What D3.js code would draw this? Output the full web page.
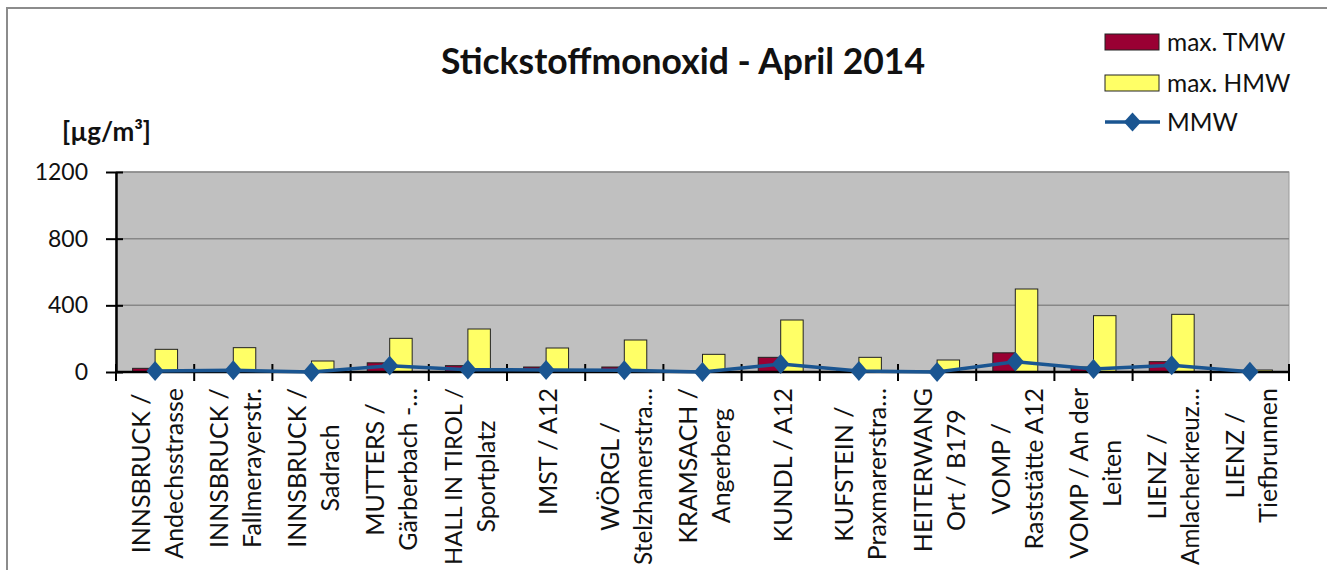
<!DOCTYPE html>
<html>
<head>
<meta charset="utf-8">
<script src="https://cdn.jsdelivr.net/npm/d3@7"></script>
<style>
  body { margin: 0; background: #fff; }
  svg { display: block; font-family: Lato, 'Noto Sans', sans-serif; }
</style>
</head>
<body>
<svg id="chart" width="1327" height="570"></svg>
<script>
// station labels, already wrapped the way the chart shows them
const stations = [
  ['INNSBRUCK /', 'Andechsstrasse'],
  ['INNSBRUCK /', 'Fallmerayerstr.'],
  ['INNSBRUCK /', 'Sadrach'],
  ['MUTTERS /', 'Gärberbach -…'],
  ['HALL IN TIROL /', 'Sportplatz'],
  ['IMST / A12'],
  ['WÖRGL /', 'Stelzhamerstra…'],
  ['KRAMSACH /', 'Angerberg'],
  ['KUNDL / A12'],
  ['KUFSTEIN /', 'Praxmarerstra…'],
  ['HEITERWANG', 'Ort / B179'],
  ['VOMP /', 'Raststätte A12'],
  ['VOMP / An der', 'Leiten'],
  ['LIENZ /', 'Amlacherkreuz…'],
  ['LIENZ /', 'Tiefbrunnen'],
]
const maxTMW = [22, 15, 3, 55, 38, 30, 30, 4, 88, 6, 4, 115, 30, 62, 10]
const maxHMW = [136, 146, 66, 202, 258, 144, 192, 106, 312, 88, 72, 498, 338, 346, 12]
const mmw = [6, 10, 0, 38, 14, 12, 10, 0, 48, 6, 0, 62, 18, 40, 2]
const yTicks = [0, 400, 800, 1200]

const svg = d3.select('#chart')
const plotLeft = 116
const plotRight = 1289
const plotTop = 172
const plotBottom = 372

const colors = { tmw: '#990033', hmw: '#ffff66', mmw: '#1a5591' }

const idx = d3.range(stations.length)
const x0 = d3.scaleBand().domain(idx).range([plotLeft, plotRight]).paddingInner(0).paddingOuter(0)
const x1 = d3.scaleBand().domain(['tmw', 'hmw']).range([0, x0.bandwidth()]).paddingInner(0).paddingOuter(0.74)
const y = d3.scaleLinear().domain([0, 1200]).range([plotBottom, plotTop])

// outer chart frame
svg.append('rect')
  .attr('x', 7).attr('y', 8).attr('width', 1400).attr('height', 700)
  .attr('fill', 'none').attr('stroke', '#8c8c8c').attr('stroke-width', 2)

// plot area
svg.append('rect')
  .attr('x', plotLeft).attr('y', plotTop)
  .attr('width', plotRight - plotLeft).attr('height', plotBottom - plotTop)
  .attr('fill', '#c0c0c0').attr('stroke', '#9a9a9a').attr('stroke-width', 1)

svg.selectAll('.grid')
  .data(yTicks.filter((t) => t > 0))
  .join('line')
  .attr('class', 'grid')
  .attr('x1', plotLeft).attr('x2', plotRight)
  .attr('y1', (d) => y(d)).attr('y2', (d) => y(d))
  .attr('stroke', '#878787').attr('stroke-width', 1.5)

// bars
const groups = svg.selectAll('.grp')
  .data(idx)
  .join('g')
  .attr('class', 'grp')
  .attr('transform', (i) => `translate(${x0(i)},0)`)

groups.append('rect')
  .attr('x', x1('tmw'))
  .attr('width', x1.bandwidth())
  .attr('y', (i) => y(maxTMW[i]))
  .attr('height', (i) => y(0) - y(maxTMW[i]))
  .attr('fill', colors.tmw)
  .attr('stroke', '#222').attr('stroke-width', 1)

groups.append('rect')
  .attr('x', x1('hmw'))
  .attr('width', x1.bandwidth())
  .attr('y', (i) => y(maxHMW[i]))
  .attr('height', (i) => y(0) - y(maxHMW[i]))
  .attr('fill', colors.hmw)
  .attr('stroke', '#222').attr('stroke-width', 1)

// y axis
const yAxis = svg.append('g')
  .attr('transform', `translate(${plotLeft},0)`)
  .call(d3.axisLeft(y).tickValues(yTicks).tickFormat(d3.format('d'))
    .tickSize(10).tickSizeOuter(0).tickPadding(18))
yAxis.select('.domain').attr('stroke', '#000').attr('stroke-width', 2.5)
yAxis.selectAll('.tick line').attr('x1', 7).attr('stroke', '#000').attr('stroke-width', 2)
yAxis.selectAll('.tick text')
  .attr('font-size', 23).attr('fill', '#111')
  .attr('font-family', 'Lato, sans-serif')

// x axis with ticks on the category boundaries
svg.append('line')
  .attr('x1', plotLeft).attr('x2', plotRight)
  .attr('y1', plotBottom).attr('y2', plotBottom)
  .attr('stroke', '#000').attr('stroke-width', 2.5)

const bounds = idx.map((i) => x0(i)).concat([plotRight])
svg.selectAll('.xtick')
  .data(bounds)
  .join('line')
  .attr('class', 'xtick')
  .attr('x1', (d) => d).attr('x2', (d) => d)
  .attr('y1', plotBottom - 8).attr('y2', plotBottom + 9)
  .attr('stroke', '#000').attr('stroke-width', 2)

// MMW line
const cx = (i) => x0(i) + x0.bandwidth() / 2
const line = d3.line().x((i) => cx(i)).y((i) => y(mmw[i]))
svg.append('path')
  .datum(idx)
  .attr('d', line)
  .attr('fill', 'none')
  .attr('stroke', colors.mmw)
  .attr('stroke-width', 3.5)

const diamond = d3.symbol().type(d3.symbolSquare).size(150)
svg.selectAll('.mk')
  .data(idx)
  .join('path')
  .attr('class', 'mk')
  .attr('d', diamond)
  .attr('transform', (i) => `translate(${cx(i)},${y(mmw[i])}) scale(1,1.15) rotate(45)`)
  .attr('fill', colors.mmw)

// category labels, rotated, lines centred against the longest one
const labelTop = 388
const lineGap = 33
const labelRoom = 570 - labelTop - 5
const labels = svg.selectAll('.lbl')
  .data(idx)
  .join('g')
  .attr('class', 'lbl')
  .attr('transform', (i) => `translate(${cx(i)},${labelTop}) rotate(-90)`)

labels.each(function (i) {
  const g = d3.select(this)
  const lines = stations[i]
  const texts = g.selectAll('text')
    .data(lines)
    .join('text')
    .attr('font-size', 25)
    .attr('fill', '#111')
    .attr('text-anchor', 'middle')
    .attr('y', (d, k) => (k - (lines.length - 1) / 2) * lineGap + 2 + 9)
    .text((d) => d)
  // shrink a line that would run past the bottom edge
  texts.each(function () {
    const len = this.getComputedTextLength()
    if (len > labelRoom) d3.select(this).attr('font-size', 25 * labelRoom / len)
  })
  let longest = 0
  texts.each(function () {
    longest = Math.max(longest, this.getComputedTextLength())
  })
  texts.attr('x', -longest / 2)
})

// title and unit
svg.append('text')
  .attr('x', 683).attr('y', 74)
  .attr('text-anchor', 'middle')
  .attr('font-size', 35.5).attr('font-weight', 'bold').attr('fill', '#111')
  .text('Stickstoffmonoxid - April 2014')

svg.append('text')
  .attr('x', 62).attr('y', 141)
  .attr('font-size', 26).attr('font-weight', 'bold').attr('fill', '#111')
  .text('[µg/m³]')

// legend
const legend = svg.append('g').attr('transform', 'translate(1105,0)')
const legendItems = [
  { label: 'max. TMW', type: 'bar', color: colors.tmw, y: 42 },
  { label: 'max. HMW', type: 'bar', color: colors.hmw, y: 83 },
  { label: 'MMW', type: 'line', color: colors.mmw, y: 122 },
]
legendItems.forEach((d) => {
  if (d.type === 'bar') {
    legend.append('rect')
      .attr('x', 0).attr('y', d.y - 8).attr('width', 54).attr('height', 16)
      .attr('fill', d.color).attr('stroke', '#222').attr('stroke-width', 1)
  } else {
    legend.append('line')
      .attr('x1', 0).attr('x2', 55).attr('y1', d.y).attr('y2', d.y)
      .attr('stroke', d.color).attr('stroke-width', 3.5)
    legend.append('path')
      .attr('d', diamond)
      .attr('transform', `translate(27.5,${d.y}) scale(1,1.1) rotate(45)`)
      .attr('fill', d.color)
  }
  legend.append('text')
    .attr('x', 62).attr('y', d.y + 8.5)
    .attr('font-size', 24.5).attr('fill', '#111')
    .text(d.label)
})
</script>
</body>
</html>
